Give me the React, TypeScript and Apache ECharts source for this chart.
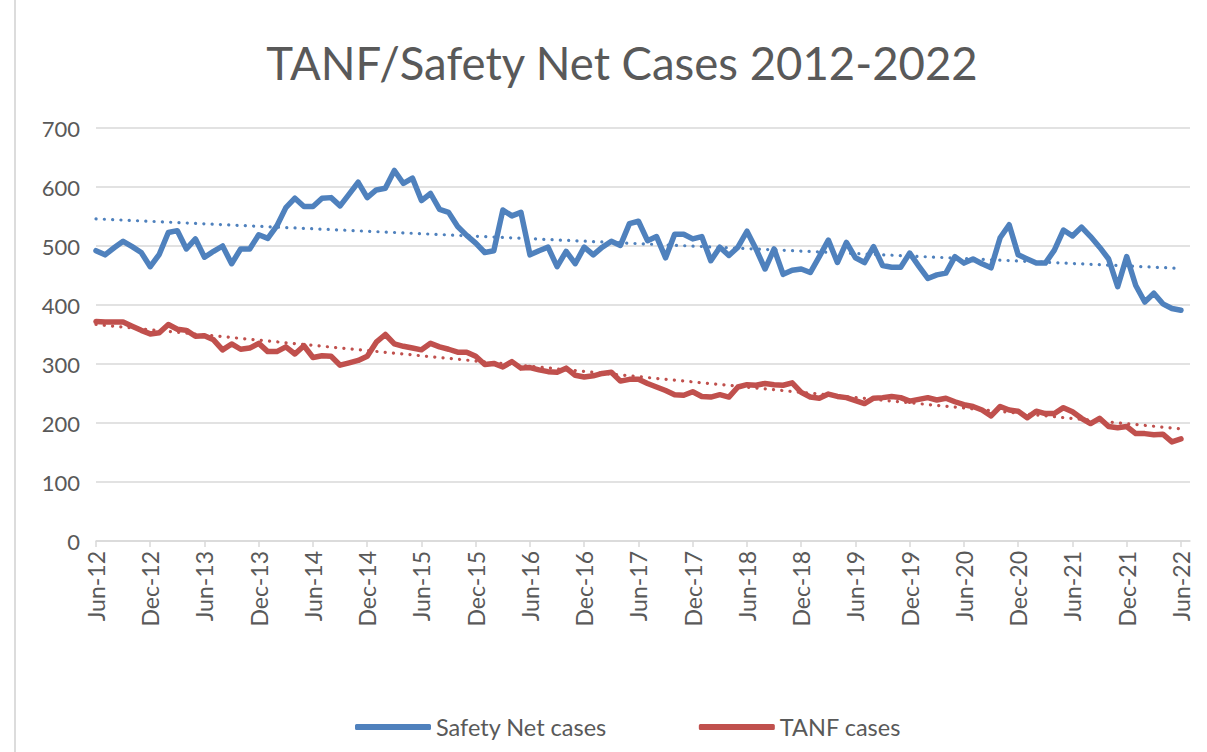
import React, { useEffect, useRef } from "react";
import * as echarts from "echarts";

const monthNames = ["Jan", "Feb", "Mar", "Apr", "May", "Jun", "Jul", "Aug", "Sep", "Oct", "Nov", "Dec"];
// Monthly categories Jun-12 .. Jul-22 (last one is an empty month at the axis end)
const categories: string[] = [];
for (let k = 0; k < 122; k++) {
  const m = (5 + k) % 12;
  const y = 12 + Math.floor((5 + k) / 12);
  categories.push(`${monthNames[m]}-${y}`);
}

const safetyNet = [
  492, 485, 497, 508, 499, 489, 465, 486, 523, 526, 495, 512,
  481, 491, 500, 470, 495, 495, 519, 513, 534, 565, 581, 567,
  567, 581, 582, 568, 588, 608, 582, 595, 598, 628, 606, 615,
  577, 589, 562, 557, 533, 518, 505, 489, 492, 561, 551, 557,
  485, 492, 498, 465, 491, 470, 498, 485, 498, 508, 501, 538,
  542, 509, 516, 480, 520, 520, 512, 516, 475, 498, 484, 498,
  525, 495, 461, 495, 452, 459, 461, 455, 482, 510, 472, 506,
  480, 472, 499, 467, 464, 464, 488, 466, 445, 451, 454, 482,
  471, 478, 470, 463, 514, 536, 485, 478, 471, 471, 493, 527,
  517, 532, 516, 498, 478, 431, 482, 433, 405, 420, 402, 394,
  391,
];

const tanf = [
  372, 371, 371, 371, 364, 357, 351, 353, 367, 359, 357, 347,
  348, 341, 324, 334, 325, 327, 335, 321, 321, 329, 317, 331,
  311, 314, 313, 298, 302, 306, 313, 337, 350, 334, 330, 327,
  324, 335, 329, 325, 320, 320, 313, 299, 301, 295, 304, 293,
  294, 290, 287, 286, 293, 281, 278, 280, 284, 286, 271, 274,
  274, 267, 261, 255, 248, 247, 253, 245, 244, 248, 244, 261,
  265, 264, 267, 265, 264, 268, 252, 244, 242, 249, 245, 243,
  238, 233, 242, 243, 245, 243, 237, 240, 243, 239, 242, 236,
  231, 228, 222, 212, 228, 222, 220, 209, 220, 216, 216, 226,
  219, 208, 199, 208, 194, 192, 194, 182, 182, 180, 181, 168,
  173,
];

// Linear trendline values at the first and last month
const safetyNetTrend = [546, 462];
const tanfTrend = [367, 190];

const yTicks = [0, 100, 200, 300, 400, 500, 600, 700];

const BLUE = "#4f81bd";
const RED = "#c0504d";
const GRID = "#d9d9d9";
const TEXT = "#595959";
const FONT = "Lato";

function trendData(ends: number[], n: number) {
  const arr: (number | null)[] = new Array(n).fill(null);
  arr[0] = ends[0];
  arr[n - 1] = ends[1];
  return arr;
}

export default function App() {
  const ref = useRef<HTMLDivElement>(null);
  useEffect(() => {
    document.body.style.margin = "0";
    if (!ref.current) return;
    const chart = echarts.init(ref.current, undefined, { renderer: "svg" });
    const n = safetyNet.length;
    chart.setOption({
      animation: false,
      backgroundColor: "#ffffff",
      title: {
        text: "TANF/Safety Net Cases 2012-2022",
        left: 617,
        top: 34,
        textAlign: "center",
        textStyle: { color: TEXT, fontFamily: FONT, fontSize: 45.5, fontWeight: "normal" },
      },
      graphic: [
        { type: "line", shape: { x1: 15, y1: 0, x2: 15, y2: 752 }, style: { stroke: "#d0d0d0", lineWidth: 1.5 } },
      ],
      legend: {
        data: ["Safety Net cases", "TANF cases"],
        left: 350,
        top: 710,
        icon: "roundRect",
        itemWidth: 76,
        itemHeight: 6,
        itemGap: 92,
        textStyle: { color: TEXT, fontFamily: FONT, fontSize: 23.5 },
      },
      grid: { left: 96, right: 17, top: 128, bottom: 211, containLabel: false },
      xAxis: {
        type: "category",
        data: categories,
        boundaryGap: false,
        axisLine: { lineStyle: { color: GRID, width: 1.5 } },
        axisTick: { interval: 5, length: 6, lineStyle: { color: GRID, width: 1.5 } },
        axisLabel: {
          interval: 5,
          rotate: 90,
          margin: 10,
          color: TEXT,
          fontFamily: FONT,
          fontSize: 23,
        },
        splitLine: { show: false },
      },
      yAxis: {
        type: "value",
        min: yTicks[0],
        max: yTicks[yTicks.length - 1],
        interval: 100,
        axisLine: { show: false },
        axisTick: { show: false },
        axisLabel: { color: TEXT, fontFamily: FONT, fontSize: 22, margin: 16 },
        splitLine: { lineStyle: { color: GRID, width: 1.5 } },
      },
      series: [
        {
          name: "Safety Net cases",
          type: "line",
          data: safetyNet,
          symbol: "none",
          color: BLUE,
          lineStyle: { color: BLUE, width: 5.5, cap: "round", join: "round" },
          z: 2,
        },
        {
          name: "TANF cases",
          type: "line",
          data: tanf,
          symbol: "none",
          color: RED,
          lineStyle: { color: RED, width: 5.5, cap: "round", join: "round" },
          z: 2,
        },
        {
          name: "Safety Net trend",
          type: "line",
          data: trendData(safetyNetTrend, n),
          connectNulls: true,
          symbol: "none",
          color: BLUE,
          lineStyle: { color: BLUE, width: 3.2, type: [0.1, 8.2], cap: "round" },
          z: 3,
          silent: true,
        },
        {
          name: "TANF trend",
          type: "line",
          data: trendData(tanfTrend, n),
          connectNulls: true,
          symbol: "none",
          color: RED,
          lineStyle: { color: RED, width: 3.2, type: [0.1, 8.2], cap: "round" },
          z: 3,
          silent: true,
        },
      ],
    });
    return () => chart.dispose();
  }, []);
  return <div ref={ref} style={{ width: 1207, height: 752 }} />;
}
